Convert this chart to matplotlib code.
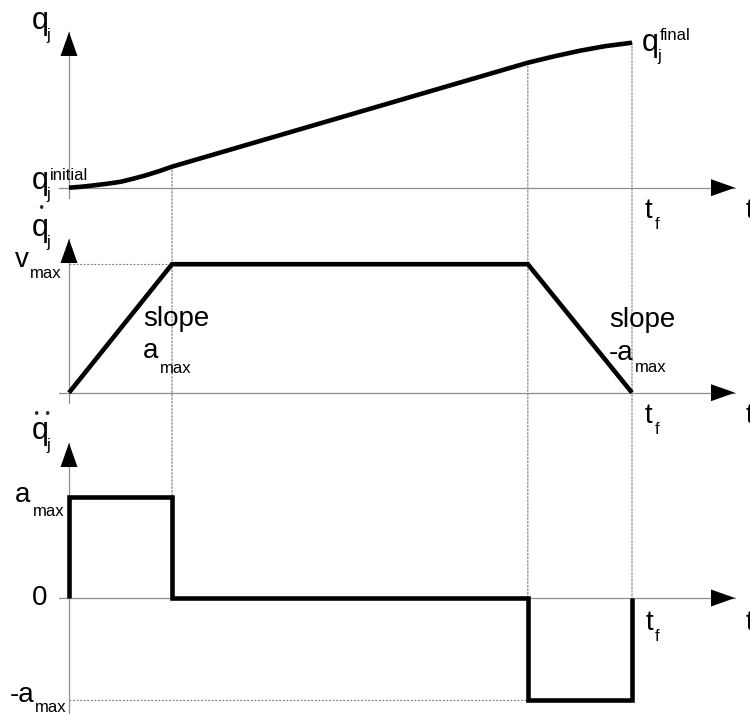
import matplotlib
matplotlib.use('Agg')
import matplotlib.pyplot as plt
from matplotlib.patches import ConnectionPatch

plt.rcParams['font.family'] = ['Liberation Sans', 'DejaVu Sans']

# ---------------- data ----------------
t1, t2, tf = 1.83, 8.15, 10.0           # end of accel, start of decel, final time
pos_t = [0, 0.23, 0.46, 0.69, 0.92, 1.14, 1.37, 1.60, 1.83,
         8.15, 8.63, 9.08, 9.52, 10.0]
pos_q = [0, 0.007, 0.017, 0.028, 0.041, 0.062, 0.086, 0.114, 0.145,
         0.862, 0.907, 0.945, 0.976, 1.0]
vel_t = [0, t1, t2, tf]
vel_v = [0, 1, 1, 0]
acc_t = [0, 0, t1, t1, t2, t2, tf, tf]
acc_a = [0, 1, 1, 0, 0, -1, -1, 0]

# ---------------- layout ----------------
W, H, DPI = 750, 714, 100
x0_px, px_per_t = 69, 56.3
xlim = (-x0_px / px_per_t, (W - x0_px) / px_per_t)
panels = {'top': (187.7, 145.0), 'mid': (392.7, 128.5), 'bot': (598.0, 101.5)}

fig = plt.figure(figsize=(W / DPI, H / DPI), dpi=DPI)
axes = {}
for k, (zero, unit) in panels.items():
    ax = fig.add_axes([0, 0, 1, 1])
    ax.set_xlim(*xlim)
    ax.set_ylim((zero - H) / unit, zero / unit)
    ax.axis('off')
    ax.patch.set_alpha(0)
    axes[k] = ax
axt, axm, axb = axes['top'], axes['mid'], axes['bot']

AX_COL = '#8f8f8f'
DOT_COL = '#7a7a7a'
t_start = -10 / px_per_t
t_arrow = (735 - x0_px) / px_per_t


def arrow_head(ax, tip, direction):
    off = (-24, 0) if direction == 'right' else (0, -24)
    ax.annotate('', xy=tip, xytext=off, textcoords='offset pixels',
                arrowprops=dict(arrowstyle='-|>,head_length=0.864,head_width=0.306',
                                mutation_scale=20, fc='black', ec='black', lw=0,
                                shrinkA=0, shrinkB=0), zorder=5)


def axis_lines(ax, ytip, ybottom):
    ax.plot([t_start, t_arrow], [0, 0], color=AX_COL, lw=0.9, zorder=1)
    ax.plot([0, 0], [ybottom, ytip], color=AX_COL, lw=0.9, zorder=1)
    arrow_head(ax, (t_arrow, 0), 'right')
    arrow_head(ax, (0, ytip), 'up')


axis_lines(axt, 1.074, -10 / 145.0)
axis_lines(axm, 1.196, -10 / 128.5)
axis_lines(axb, 1.527, -1.2)

# ---------------- dotted guides ----------------
dot_kw = dict(color=DOT_COL, lw=0.8, linestyle=(0, (1.6, 1.6)), zorder=0)
for (xa, ya, ax_a), (xb, yb, ax_b) in [((t1, pos_q[8], axt), (t1, acc_a[1], axb)),
                                       ((t2, pos_q[9], axt), (t2, 0, axb)),
                                       ((tf, pos_q[-1], axt), (tf, 0, axb))]:
    cp = ConnectionPatch(xyA=(xa, ya), coordsA=ax_a.transData,
                         xyB=(xb, yb), coordsB=ax_b.transData, **dot_kw)
    fig.add_artist(cp)
axm.plot([0, t1], [vel_v[1], vel_v[1]], **dot_kw)
axb.plot([0, t2], [acc_a[5], acc_a[5]], **dot_kw)

# ---------------- curves ----------------
line_kw = dict(color='black', lw=3.3, solid_joinstyle='miter', solid_capstyle='butt', zorder=3)
axt.plot(pos_t, pos_q, **dict(line_kw, solid_joinstyle='round'))
axm.plot(vel_t, vel_v, **line_kw)
axb.plot(acc_t, acc_a, **line_kw)

# ---------------- labels ----------------
def lab(ax, xy, s, dx, dy, size=20, **kw):
    ax.annotate(s, xy=xy, xytext=(dx, dy), textcoords='offset pixels',
                ha='left', va='baseline', fontsize=size, color='black', **kw)


def dotmark(ax, xy, dx, dy):
    ax.annotate('\u2022', xy=xy, xytext=(dx, dy), textcoords='offset pixels',
                ha='center', va='center', fontsize=9, color='#1f2d4d',
                family='DejaVu Sans')


SUB = 12
# top panel
lab(axt, (0, 1.074), 'q', -37, 3, 22)
lab(axt, (0, 1.074), 'j', -23, -8, SUB)
lab(axt, (0, 0), 'q', -37, -1.5, 22)
lab(axt, (0, 0), 'j', -23, -11, SUB)
lab(axt, (0, 0), 'initial', -19, 8, SUB)
lab(axt, (tf, pos_q[-1]), 'q', 10, -8, 22)
lab(axt, (tf, pos_q[-1]), 'j', 25, -18, SUB)
lab(axt, (tf, pos_q[-1]), 'final', 28, 3, SUB)
lab(axt, (tf, 0), 't', 13, -30)
lab(axt, (tf, 0), 'f', 23, -41, SUB)
lab(axt, (t_arrow, 0), 't', 11, -30)

# middle panel
lab(axm, (0, 1.196), 'q', -37, 3, 22)
lab(axm, (0, 1.196), 'j', -23, -8, SUB)
dotmark(axm, (0, 1.196), -28, 31)
lab(axm, (0, vel_v[1]), 'v', -54, -3)
lab(axm, (0, vel_v[1]), 'max', -39, -14, SUB)
lab(axm, (t1, vel_v[1]), 'slope', -29, -62)
lab(axm, (t1, vel_v[1]), 'a', -29, -94)
lab(axm, (t1, vel_v[1]), 'max', -12, -109, SUB)
lab(axm, (tf, 0), 'slope', -23, 66)
lab(axm, (tf, 0), '-a', -23, 33)
lab(axm, (tf, 0), 'max', 3, 21, SUB)
lab(axm, (tf, 0), 't', 13, -30)
lab(axm, (tf, 0), 'f', 23, -41, SUB)
lab(axm, (t_arrow, 0), 't', 11, -30)

# bottom panel
lab(axb, (0, 1.527), 'q', -37, 4, 22)
lab(axb, (0, 1.527), 'j', -23, -7, SUB)
dotmark(axb, (0, 1.527), -33, 29)
dotmark(axb, (0, 1.527), -22, 29)
lab(axb, (0, acc_a[1]), 'a', -54, -5)
lab(axb, (0, acc_a[1]), 'max', -36, -19, SUB)
lab(axb, (0, 0), '0', -37, -7)
lab(axb, (0, acc_a[5]), '-a', -59, -3)
lab(axb, (0, acc_a[5]), 'max', -34, -12, SUB)
lab(axb, (tf, 0), 't', 14, -32)
lab(axb, (tf, 0), 'f', 23, -43, SUB)
lab(axb, (t_arrow, 0), 't', 11, -32)

fig.savefig('out.png', dpi=DPI)
